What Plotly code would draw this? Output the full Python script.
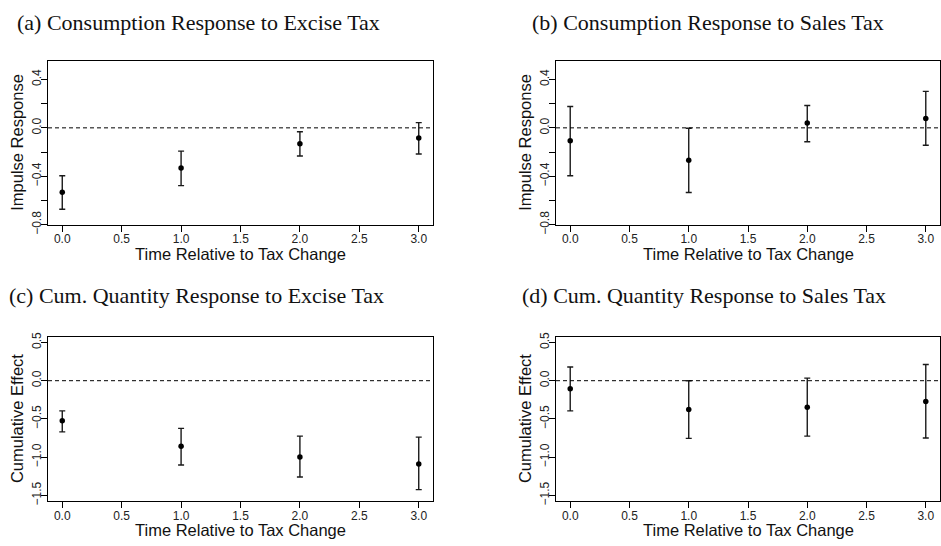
import plotly.graph_objects as go

# ---- data ----
periods = [0, 1, 2, 3]

excise_irf = [-0.531, -0.331, -0.131, -0.083]
excise_irf_lo = [-0.672, -0.477, -0.232, -0.216]
excise_irf_hi = [-0.395, -0.192, -0.032, 0.043]

sales_irf = [-0.107, -0.267, 0.040, 0.077]
sales_irf_lo = [-0.395, -0.533, -0.115, -0.144]
sales_irf_hi = [0.176, -0.003, 0.184, 0.301]

excise_cum = [-0.525, -0.856, -0.996, -1.089]
excise_cum_lo = [-0.669, -1.102, -1.258, -1.424]
excise_cum_hi = [-0.394, -0.623, -0.725, -0.737]

sales_cum = [-0.106, -0.377, -0.347, -0.271]
sales_cum_lo = [-0.394, -0.754, -0.725, -0.750]
sales_cum_hi = [0.178, 0.000, 0.034, 0.212]

titles = [
    "(a) Consumption Response to Excise Tax",
    "(b) Consumption Response to Sales Tax",
    "(c) Cum. Quantity Response to Excise Tax",
    "(d) Cum. Quantity Response to Sales Tax",
]
ylabels = ["Impulse Response", "Impulse Response", "Cumulative Effect", "Cumulative Effect"]
xlabel = "Time Relative to Tax Change"

x_ticks = [0, 0.5, 1, 1.5, 2, 2.5, 3]
x_ticktext = ["0.0", "0.5", "1.0", "1.5", "2.0", "2.5", "3.0"]
irf_ticks = [-0.8, -0.6, -0.4, -0.2, 0.0, 0.2, 0.4]
irf_ticktext = ["\u22120.8", "", "\u22120.4", "", "0.0", "", "0.4"]
cum_ticks = [-1.5, -1.0, -0.5, 0.0, 0.5]
cum_ticktext = ["\u22121.5", "\u22121.0", "\u22120.5", "0.0", "0.5"]

panels = [
    (excise_irf, excise_irf_lo, excise_irf_hi),
    (sales_irf, sales_irf_lo, sales_irf_hi),
    (excise_cum, excise_cum_lo, excise_cum_hi),
    (sales_cum, sales_cum_lo, sales_cum_hi),
]

W, H = 941, 546
# plot areas in pixels: (left, right, top, bottom)
boxes = [
    (48, 433, 57.3, 226),
    (556, 940, 57.3, 226),
    (48, 433, 341.3, 510.3),
    (556, 940, 341.3, 510.3),
]
title_pos = [(15, 18.5), (530, 18.5), (7, 298.5), (520, 298.5)]

fig = go.Figure()
ink = "#1a1a1a"
sans = "Liberation Sans, Arial, sans-serif"

for i, ((est, lo, hi), box) in enumerate(zip(panels, boxes)):
    n = "" if i == 0 else str(i + 1)
    fig.add_trace(go.Scatter(
        x=periods, y=est, mode="markers",
        marker=dict(color="black", size=5.5),
        error_y=dict(type="data", symmetric=False,
                     array=[h - e for h, e in zip(hi, est)],
                     arrayminus=[e - l for e, l in zip(est, lo)],
                     color=ink, thickness=1.4, width=3),
        xaxis="x" + n, yaxis="y" + n, showlegend=False,
    ))
    l, r, t, b = box
    if i < 2:
        yr = [-0.8, 0.554]
        tv, tt = irf_ticks, irf_ticktext
    else:
        yr = [-1.576, 0.572]
        tv, tt = cum_ticks, cum_ticktext
    axfont = dict(family=sans, size=12, color="#222")
    fig.update_layout(**{
        "xaxis" + n: dict(domain=[l / W, r / W], range=[-0.12, 3.12], anchor="y" + n,
                          tickvals=x_ticks, ticktext=x_ticktext, ticks="outside",
                          ticklen=6, tickcolor="black", showline=True, mirror=True,
                          linecolor="black", linewidth=1, showgrid=False, zeroline=False,
                          tickfont=axfont, ticklabelstandoff=-3, fixedrange=True),
        "yaxis" + n: dict(domain=[1 - b / H, 1 - t / H], range=yr, anchor="x" + n,
                          tickvals=tv, ticktext=tt, ticks="outside", ticklen=6,
                          tickcolor="black", tickangle=-90, showline=True, mirror=True,
                          linecolor="black", linewidth=1, showgrid=False, zeroline=False,
                          tickfont=axfont, ticklabelstandoff=-5, fixedrange=True),
    })
    fig.add_shape(type="line", xref="x" + n + " domain", yref="y" + n,
                  x0=0, x1=1, y0=0, y1=0,
                  line=dict(color="black", width=1, dash="4px,3px"))
    # axis titles
    fig.add_annotation(text=xlabel, xref="paper", yref="paper",
                       x=(l + r) / 2 / W, y=1 - (b + 30) / H,
                       xanchor="center", yanchor="middle", showarrow=False,
                       font=dict(family=sans, size=16.5, color="#111"))
    fig.add_annotation(text=ylabels[i], xref="paper", yref="paper",
                       x=(l - 31) / W, y=1 - (t + b) / 2 / H, textangle=-90,
                       xanchor="center", yanchor="middle", showarrow=False,
                       font=dict(family=sans, size=16.5, color="#111"))
    tx, ty = title_pos[i]
    fig.add_annotation(text=titles[i], xref="paper", yref="paper",
                       x=tx / W, y=1 - ty / H, xanchor="left", yanchor="middle",
                       showarrow=False,
                       font=dict(family="Liberation Serif, Times New Roman, serif", size=22, color="#111"))

fig.update_layout(width=W, height=H, margin=dict(l=0, r=0, t=0, b=0),
                  paper_bgcolor="white", plot_bgcolor="white")
fig.write_html("out.html", config={"displayModeBar": False})
